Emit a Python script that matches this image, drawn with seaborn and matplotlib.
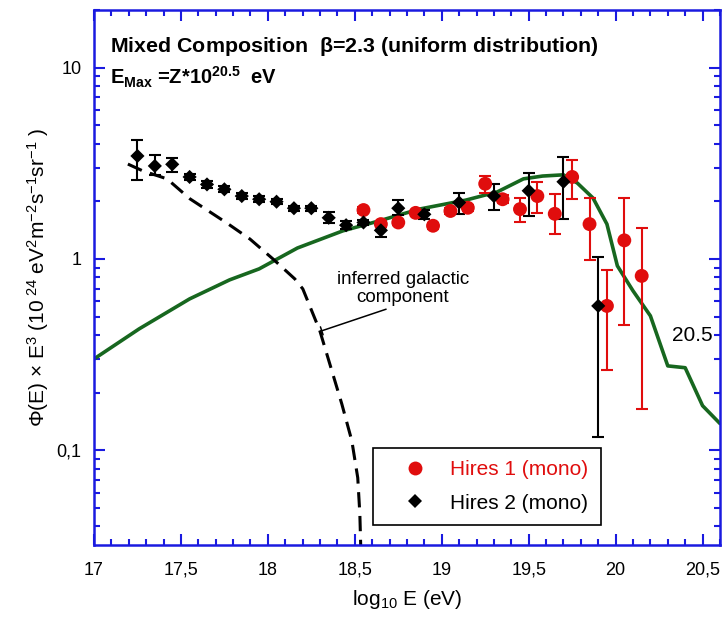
import matplotlib
matplotlib.use("Agg")
import matplotlib.pyplot as plt
from matplotlib.lines import Line2D
from matplotlib.ticker import MultipleLocator, LogLocator, FuncFormatter, NullFormatter, FixedLocator
import numpy as np
import pandas as pd
import seaborn as sns

# Hires 1 (mono): log10 E, flux*E^3, lower / upper error bounds
hires1_logE = [18.55, 18.65, 18.75, 18.85, 18.95, 19.05, 19.15, 19.25, 19.35,
               19.45, 19.55, 19.65, 19.75, 19.85, 19.95, 20.05, 20.15]
hires1_flux = [1.80, 1.52, 1.55, 1.74, 1.49, 1.78, 1.85, 2.47, 2.05,
               1.82, 2.13, 1.72, 2.68, 1.52, 0.568, 1.25, 0.815]
hires1_low = [1.74, 1.47, 1.50, 1.68, 1.44, 1.72, 1.79, 2.22, 1.95,
              1.56, 1.73, 1.35, 2.05, 0.99, 0.264, 0.45, 0.165]
hires1_high = [1.86, 1.57, 1.60, 1.80, 1.54, 1.84, 1.91, 2.71, 2.15,
               2.09, 2.53, 2.19, 3.29, 2.07, 0.88, 2.07, 1.45]

# Hires 2 (mono)
hires2_logE = [17.25, 17.35, 17.45, 17.55, 17.65, 17.75, 17.85, 17.95, 18.05,
               18.15, 18.25, 18.35, 18.45, 18.55, 18.65, 18.75, 18.90, 19.10,
               19.30, 19.50, 19.70, 19.90]
hires2_flux = [3.45, 3.06, 3.12, 2.68, 2.45, 2.31, 2.13, 2.05, 1.99,
               1.84, 1.84, 1.64, 1.50, 1.55, 1.41, 1.84, 1.71, 1.97,
               2.13, 2.27, 2.53, 0.568]
hires2_low = [2.59, 2.75, 2.85, 2.58, 2.36, 2.23, 2.06, 1.98, 1.93,
              1.78, 1.78, 1.54, 1.43, 1.50, 1.30, 1.70, 1.62, 1.71,
              1.80, 1.68, 1.61, 0.117]
hires2_high = [4.18, 3.50, 3.38, 2.78, 2.54, 2.39, 2.20, 2.12, 2.05,
               1.90, 1.90, 1.76, 1.58, 1.60, 1.52, 2.02, 1.80, 2.22,
               2.47, 2.82, 3.42, 1.02]

# Mixed composition model, E_max = Z * 10^20.5 eV
model_logE = [17.00, 17.26, 17.55, 17.78, 17.95, 18.17, 18.43, 18.64, 18.87,
              19.14, 19.32, 19.47, 19.58, 19.70, 19.78, 19.87, 19.95, 20.01,
              20.10, 20.20, 20.30, 20.40, 20.50, 20.60]
model_flux = [0.300, 0.431, 0.618, 0.777, 0.887, 1.14, 1.40, 1.58, 1.82,
              2.03, 2.24, 2.62, 2.71, 2.75, 2.49, 2.08, 1.52, 0.92,
              0.681, 0.504, 0.276, 0.270, 0.171, 0.138]

# Inferred galactic component
gal_logE = [17.195, 17.282, 17.42, 17.552, 17.764, 17.897, 18.029, 18.155,
            18.201, 18.299, 18.356, 18.425, 18.483, 18.517, 18.529, 18.534]
gal_flux = [3.13, 2.88, 2.62, 2.06, 1.54, 1.27, 1.00, 0.786,
            0.697, 0.421, 0.283, 0.175, 0.112, 0.0718, 0.0466, 0.0317]

RED = "#e00d0d"
GREEN = "#17671f"
BLUE = "#1a1ae0"

sns.set_theme(style="ticks")
plt.rcParams["font.family"] = ["Liberation Sans", "DejaVu Sans"]
plt.rcParams["mathtext.fontset"] = "custom"
plt.rcParams["mathtext.rm"] = "Liberation Sans"
plt.rcParams["mathtext.it"] = "Liberation Sans:italic"
plt.rcParams["mathtext.bf"] = "Liberation Sans:bold"
plt.rcParams["text.color"] = "black"
plt.rcParams["axes.labelcolor"] = "black"

fig = plt.figure(figsize=(7.24, 6.2), dpi=100)
ax = fig.add_axes([0.1298, 0.121, 0.8646, 0.863])

model = pd.DataFrame({"logE": model_logE, "flux": model_flux})
gal = pd.DataFrame({"logE": gal_logE, "flux": gal_flux})
h1 = pd.DataFrame({"logE": hires1_logE, "flux": hires1_flux,
                   "lo": hires1_low, "hi": hires1_high})
h2 = pd.DataFrame({"logE": hires2_logE, "flux": hires2_flux,
                   "lo": hires2_low, "hi": hires2_high})

sns.lineplot(data=model, x="logE", y="flux", ax=ax, color=GREEN, lw=2.6,
             sort=False, estimator=None, zorder=2)
sns.lineplot(data=gal, x="logE", y="flux", ax=ax, color="black", lw=2.2,
             linestyle=(0, (5, 2.8)), sort=False, estimator=None, zorder=2)

ax.errorbar(h1["logE"], h1["flux"], yerr=[h1["flux"] - h1["lo"], h1["hi"] - h1["flux"]],
            fmt="none", ecolor=RED, elinewidth=1.5, capsize=4, capthick=1.5, zorder=3)
ax.errorbar(h2["logE"], h2["flux"], yerr=[h2["flux"] - h2["lo"], h2["hi"] - h2["flux"]],
            fmt="none", ecolor="black", elinewidth=1.5, capsize=4, capthick=1.5, zorder=4)
sns.scatterplot(data=h1, x="logE", y="flux", ax=ax, marker="o", s=100,
                color=RED, edgecolor="none", linewidth=0, zorder=5)
sns.scatterplot(data=h2, x="logE", y="flux", ax=ax, marker="D", s=52,
                color="black", edgecolor="none", linewidth=0, zorder=6)

ax.set_yscale("log")
ax.set_xlim(17.0, 20.6)
ax.set_ylim(0.032, 20)

ax.xaxis.set_major_locator(MultipleLocator(0.5))
ax.xaxis.set_minor_locator(MultipleLocator(0.1))
ax.xaxis.set_major_formatter(FuncFormatter(lambda v, p: f"{v:g}".replace(".", ",")))
ax.yaxis.set_major_locator(FixedLocator([0.1, 1, 10]))
ax.yaxis.set_minor_locator(LogLocator(base=10, subs=np.arange(2, 10)))
ax.yaxis.set_major_formatter(FuncFormatter(lambda v, p: f"{v:g}".replace(".", ",")))
ax.yaxis.set_minor_formatter(NullFormatter())

ax.tick_params(which="both", direction="in", top=True, right=True,
               color=BLUE, width=1.5, labelsize=13, labelcolor="black")
ax.tick_params(axis="x", which="major", length=8, pad=12)
ax.tick_params(axis="y", which="major", length=8, pad=9)
ax.tick_params(which="minor", length=4.5)
for sp in ax.spines.values():
    sp.set_color(BLUE)
    sp.set_linewidth(1.8)

ax.set_xlabel(r"log$_{10}$ E (eV)", fontsize=15, labelpad=7)
ax.set_ylabel(r"$\Phi$(E) $\times$ E$^3$ (10$^{\ 24}$ eV$^2$m$^{-2}$s$^{-1}$sr$^{-1}$ )",
              fontsize=15, labelpad=4)

ax.text(0.026, 0.931, r"Mixed Composition  $\mathbf{\beta}$=2.3 (uniform distribution)",
        transform=ax.transAxes, fontsize=15.4, fontweight="bold", va="center", ha="left")
ax.text(0.026, 0.873, r"E$_{\mathbf{Max}}$ =Z*10$^{\mathbf{20.5}}$  eV",
        transform=ax.transAxes, fontsize=14.5, fontweight="bold", va="center", ha="left")

ax.text(18.776, 0.70, "inferred galactic\ncomponent", fontsize=13.5, ha="center",
        va="center", linespacing=1.1)
ax.annotate("", xy=(18.31, 0.421), xytext=(18.68, 0.546),
            arrowprops=dict(arrowstyle="-[, widthB=0.25, lengthB=0.0", color="black",
                            lw=1.1, shrinkA=0, shrinkB=0))
ax.text(20.44, 0.40, "20.5", fontsize=15, ha="center", va="center")

handles = [
    Line2D([], [], marker="o", color=RED, ls="none", markersize=10, markeredgewidth=0),
    Line2D([], [], marker="D", color="black", ls="none", markersize=7, markeredgewidth=0),
]
leg = ax.legend(handles, ["Hires 1 (mono)", "Hires 2 (mono)"], loc="lower left",
                bbox_to_anchor=(0.446, 0.037), borderaxespad=0, fontsize=15,
                frameon=True, fancybox=False, edgecolor="black", framealpha=1,
                borderpad=0.6, handlelength=2.8, handletextpad=0.3,
                labelspacing=0.7, numpoints=1)
leg.get_frame().set_linewidth(1.2)
leg.get_texts()[0].set_color(RED)

fig.savefig("out.png", dpi=100)
